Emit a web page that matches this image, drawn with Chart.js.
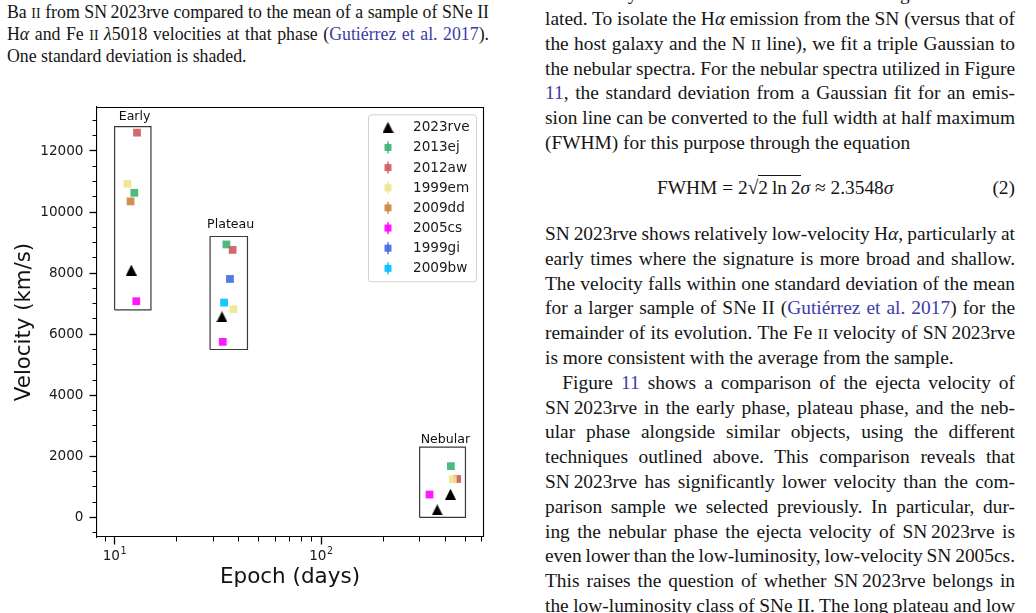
<!DOCTYPE html>
<html><head><meta charset="utf-8">
<script src="https://cdn.jsdelivr.net/npm/chart.js@4.4.1/dist/chart.umd.min.js"></script>
<style>
html,body{margin:0;padding:0;background:#fff;}
body{width:1036px;height:613px;position:relative;overflow:hidden;font-family:"Liberation Serif","Times New Roman",serif;color:#151515;}
.ln{position:absolute;white-space:nowrap;}
.cap{font-size:17.8px;line-height:21.5px;left:7px;}
.txt{font-size:19.4px;line-height:24.8px;left:545px;}
.sc{font-size:0.78em;}
.lk{color:#3b3ba8;}
#wrap{position:absolute;left:0;top:86px;width:500px;height:527px;}
</style></head>
<body>
<div class="ln cap j" data-w="482" style="top:2px"><span class="in">Ba <span class="sc">II</span> from SN&#8201;2023rve compared to the mean of a sample of SNe II</span></div>
<div class="ln cap j" data-w="482" style="top:24px"><span class="in">H<i>α</i> and Fe <span class="sc">II</span> <i>λ</i>5018 velocities at that phase (<span class="lk">Gutiérrez et al. 2017</span>).</span></div>
<div class="ln cap" style="top:45.5px"><span class="in">One standard deviation is shaded.</span></div>

<div class="ln txt j" data-w="470" style="top:-17.8px"><span class="in">the velocity shift relative to the rest wavelength was calcu-</span></div>
<div class="ln txt j" data-w="470" style="top:7px"><span class="in">lated. To isolate the H<i>α</i> emission from the SN (versus that of</span></div>
<div class="ln txt j" data-w="470" style="top:31.8px"><span class="in">the host galaxy and the N <span class="sc">II</span> line), we fit a triple Gaussian to</span></div>
<div class="ln txt j" data-w="470" style="top:56.6px"><span class="in">the nebular spectra. For the nebular spectra utilized in Figure</span></div>
<div class="ln txt j" data-w="470" style="top:81.4px"><span class="in"><span class="lk">11</span>, the standard deviation from a Gaussian fit for an emis-</span></div>
<div class="ln txt j" data-w="470" style="top:106.2px"><span class="in">sion line can be converted to the full width at half maximum</span></div>
<div class="ln txt" style="top:131px"><span class="in">(FWHM) for this purpose through the equation</span></div>
<div class="ln txt" style="top:176px;left:657px">FWHM = 2√<span style="border-top:1px solid #151515;padding-top:1px">2&#8201;ln&#8201;2</span><i>σ</i> ≈ 2.3548<i>σ</i></div>
<div class="ln txt" style="top:176px;left:auto;right:21px">(2)</div>
<div class="ln txt j" data-w="470" style="top:222px"><span class="in">SN&#8201;2023rve shows relatively low-velocity H<i>α</i>, particularly at</span></div>
<div class="ln txt j" data-w="470" style="top:246.8px"><span class="in">early times where the signature is more broad and shallow.</span></div>
<div class="ln txt j" data-w="470" style="top:271.6px"><span class="in">The velocity falls within one standard deviation of the mean</span></div>
<div class="ln txt j" data-w="470" style="top:296.4px"><span class="in">for a larger sample of SNe II (<span class="lk">Gutiérrez et al. 2017</span>) for the</span></div>
<div class="ln txt j" data-w="470" style="top:321.2px"><span class="in">remainder of its evolution. The Fe <span class="sc">II</span> velocity of SN&#8201;2023rve</span></div>
<div class="ln txt" style="top:346px"><span class="in">is more consistent with the average from the sample.</span></div>
<div class="ln txt j" data-w="452.7" style="top:370.8px;left:562.3px"><span class="in">Figure <span class="lk">11</span> shows a comparison of the ejecta velocity of</span></div>
<div class="ln txt j" data-w="470" style="top:395.6px"><span class="in">SN&#8201;2023rve in the early phase, plateau phase, and the neb-</span></div>
<div class="ln txt j" data-w="470" style="top:420.4px"><span class="in">ular phase alongside similar objects, using the different</span></div>
<div class="ln txt j" data-w="470" style="top:445.2px"><span class="in">techniques outlined above. This comparison reveals that</span></div>
<div class="ln txt j" data-w="470" style="top:470px"><span class="in">SN&#8201;2023rve has significantly lower velocity than the com-</span></div>
<div class="ln txt j" data-w="470" style="top:494.8px"><span class="in">parison sample we selected previously. In particular, dur-</span></div>
<div class="ln txt j" data-w="470" style="top:519.6px"><span class="in">ing the nebular phase the ejecta velocity of SN&#8201;2023rve is</span></div>
<div class="ln txt j" data-w="470" style="top:544.4px"><span class="in">even lower than the low-luminosity, low-velocity SN&#8201;2005cs.</span></div>
<div class="ln txt j" data-w="470" style="top:569.2px"><span class="in">This raises the question of whether SN&#8201;2023rve belongs in</span></div>
<div class="ln txt j" data-w="470" style="top:594px"><span class="in">the low-luminosity class of SNe II. The long plateau and low</span></div>

<div id="wrap"><canvas id="c" width="500" height="527"></canvas></div>

<script>
// ---------- data ----------
const supernovae = ['2023rve', '2013ej', '2012aw', '1999em', '2009dd', '2005cs', '1999gi', '2009bw'];
const snColors = ['#000000', '#3cb371', '#cd5c5c', '#f0e68c', '#cd853f', '#ff00ff', '#4169e1', '#00bfff'];

const epoch2023rve = [12.05, 33.1, 423, 365];
const vel2023rve   = [8100, 6570, 760, 250];
const epoch2013ej  = [12.46, 34.8, 425];
const vel2013ej    = [10630, 8940, 1680];
const epoch2012aw  = [12.84, 37.3, 456];
const vel2012aw    = [12600, 8760, 1260];
const epoch1999em  = [11.52, 37.6, 434];
const vel1999em    = [10925, 6820, 1250];
const epoch2009dd  = [11.95];
const vel2009dd    = [10350];
const epoch2005cs  = [12.74, 33.4, 335];
const vel2005cs    = [7080, 5750, 750];
const epoch1999gi  = [36.2];
const vel1999gi    = [7810];
const epoch2009bw  = [33.9];
const vel2009bw    = [7035];

const snEpochs = [epoch2023rve, epoch2013ej, epoch2012aw, epoch1999em, epoch2009dd, epoch2005cs, epoch1999gi, epoch2009bw];
const snVels   = [vel2023rve, vel2013ej, vel2012aw, vel1999em, vel2009dd, vel2005cs, vel1999gi, vel2009bw];

const phaseNames    = ['Early', 'Plateau', 'Nebular'];
const phaseEpochMin = [10, 29, 300];
const phaseEpochMax = [15, 44, 500];
const phaseVelMin   = [6800, 5500, 0];
const phaseVelMax   = [12800, 9200, 2300];
const phaseLabelVel = [13030, 9470, 2450];

const xMajorTicks   = [10, 100];
const xTickBase     = ['10', '10'];
const xTickExponent = ['1', '2'];
const xMinorTicks   = [9, 20, 30, 40, 50, 60, 70, 80, 90, 200, 300, 400, 500, 600];
const yMajorTicks   = [0, 2000, 4000, 6000, 8000, 10000, 12000];
const yMinorTicks   = [-500, 0, 500, 1000, 1500, 2000, 2500, 3000, 3500, 4000, 4500, 5000, 5500, 6000, 6500,
                       7000, 7500, 8000, 8500, 9000, 9500, 10000, 10500, 11000, 11500, 12000, 12500, 13000];
const xMin = 8.22, xMax = 608, yMin = -640, yMax = 13440;

// ---------- justify text lines ----------
document.querySelectorAll('.j').forEach(el => {
  const target = parseFloat(el.dataset.w);
  const sp = el.querySelector('.in');
  const w = sp.getBoundingClientRect().width;
  const n = (sp.textContent.match(/ /g) || []).length;
  if (n) sp.style.wordSpacing = ((target - w) / n) + 'px';
});

// ---------- chart ----------
function hexA(h, a) {
  const r = parseInt(h.slice(1, 3), 16), g = parseInt(h.slice(3, 5), 16), b = parseInt(h.slice(5, 7), 16);
  return `rgba(${r},${g},${b},${a})`;
}
const tri = document.createElement('canvas');
tri.width = 11; tri.height = 11;
{
  const c = tri.getContext('2d');
  c.fillStyle = '#000';
  c.beginPath(); c.moveTo(5.5, 0); c.lineTo(11, 11); c.lineTo(0, 11); c.closePath(); c.fill();
}

const datasets = [];
supernovae.forEach((name, i) => {
  datasets.push({
    label: name,
    data: snEpochs[i].map((e, k) => ({ x: e, y: snVels[i][k] })),
    pointStyle: i === 0 ? tri : 'rect',
    pointRadius: 5.5,
    backgroundColor: i === 0 ? '#000' : hexA(snColors[i], 0.9),
    borderWidth: 0,
    showLine: false,
    order: -i
  });
});
phaseNames.forEach((p, i) => {
  datasets.push({
    label: 'box-' + p,
    type: 'line',
    data: [
      { x: phaseEpochMin[i], y: phaseVelMin[i] },
      { x: phaseEpochMax[i], y: phaseVelMin[i] },
      { x: phaseEpochMax[i], y: phaseVelMax[i] },
      { x: phaseEpochMin[i], y: phaseVelMax[i] },
      { x: phaseEpochMin[i], y: phaseVelMin[i] }
    ],
    borderColor: '#3a3a3a', borderWidth: 1.2, pointRadius: 0, fill: false, tension: 0,
    order: 10
  });
});

const tickFont = { family: 'DejaVu Sans', size: 13.6 };
const extras = {
  id: 'extras',
  afterDraw(chart) {
    const ctx = chart.ctx, a = chart.chartArea, sx = chart.scales.x, sy = chart.scales.y;
    ctx.save();
    // top & right spines
    ctx.strokeStyle = '#000'; ctx.lineWidth = 1.1;
    ctx.beginPath();
    ctx.moveTo(a.left, Math.round(a.top) + 0.5); ctx.lineTo(a.right + 0.5, Math.round(a.top) + 0.5);
    ctx.lineTo(Math.round(a.right) + 0.5, a.bottom);
    ctx.stroke();
    // x tick labels with real superscripts
    ctx.fillStyle = '#1a1a1a';
    ctx.textAlign = 'left'; ctx.textBaseline = 'alphabetic';
    xMajorTicks.forEach((v, i) => {
      const x = sx.getPixelForValue(v);
      ctx.font = '13.6px "DejaVu Sans"';
      const wb = ctx.measureText(xTickBase[i]).width;
      ctx.font = '9.6px "DejaVu Sans"';
      const we = ctx.measureText(xTickExponent[i]).width;
      const x0 = x - (wb + we + 0.5) / 2;
      const base = a.bottom + 23;
      ctx.font = '13.6px "DejaVu Sans"';
      ctx.fillText(xTickBase[i], x0, base);
      ctx.font = '9.6px "DejaVu Sans"';
      ctx.fillText(xTickExponent[i], x0 + wb + 0.5, base - 5.8);
    });
    // phase labels
    ctx.fillStyle = '#111';
    ctx.font = '12.6px "DejaVu Sans"';
    ctx.textAlign = 'center'; ctx.textBaseline = 'alphabetic';
    phaseNames.forEach((p, i) => {
      const x = sx.getPixelForValue((phaseEpochMin[i] + phaseEpochMax[i]) / 2);
      const y = sy.getPixelForValue(phaseLabelVel[i]);
      ctx.fillText(p, x, y);
    });
    // legend
    const bw = 108, bh = 167;
    const bx = a.right - 7 - bw, by = a.top + 7.3;
    ctx.beginPath();
    ctx.roundRect(bx + 0.5, by + 0.5, bw, bh, 3);
    ctx.fillStyle = 'rgba(255,255,255,0.8)'; ctx.fill();
    ctx.strokeStyle = '#d0d0d0'; ctx.lineWidth = 1; ctx.stroke();
    ctx.font = '13.6px "DejaVu Sans"';
    ctx.textAlign = 'left'; ctx.textBaseline = 'middle';
    supernovae.forEach((name, i) => {
      const cy = by + 13 + i * 20.15, cx = bx + 20;
      if (i === 0) {
        ctx.drawImage(tri, cx - 5.5, cy - 5.5);
      } else {
        ctx.fillStyle = hexA(snColors[i], 0.9);
        ctx.fillRect(cx - 0.75, cy - 6, 1.5, 12);
        ctx.fillRect(cx - 3.5, cy - 3.5, 7, 7);
      }
      ctx.fillStyle = '#1a1a1a';
      ctx.fillText(name, bx + 45, cy + 0.5);
    });
    ctx.restore();
  }
};

new Chart(document.getElementById('c'), {
  type: 'scatter',
  data: { datasets },
  options: {
    responsive: false, animation: false, devicePixelRatio: 1,
    layout: { padding: { top: 21, right: 17, left: 0, bottom: 0 } },
    plugins: { legend: { display: false }, tooltip: { enabled: false } },
    scales: {
      x: {
        type: 'logarithmic', position: 'bottom', min: xMin, max: xMax,
        afterBuildTicks: s => { s.ticks = xMajorTicks.map(v => ({ value: v })); },
        afterFit: s => { s.height = 76; },
        ticks: { autoSkip: false, maxRotation: 0, minRotation: 0, padding: 3, color: '#1a1a1a', font: tickFont,
          callback: () => '' },
        grid: { drawOnChartArea: false, tickLength: 7.5, tickWidth: 1.3, tickColor: '#000' },
        border: { display: true, color: '#000', width: 1.1 },
        title: { display: true, text: 'Epoch (days)', color: '#111', font: { family: 'DejaVu Sans', size: 21.5 }, padding: { top: 0, bottom: 23 } }
      },
      xm: {
        type: 'logarithmic', position: { y: yMin }, min: xMin, max: xMax,
        afterBuildTicks: s => { s.ticks = xMinorTicks.map(v => ({ value: v })); },
        ticks: { display: false },
        grid: { drawOnChartArea: false, tickLength: 4.5, tickWidth: 1, tickColor: '#000' },
        border: { display: false }
      },
      y: {
        type: 'linear', position: 'left', min: yMin, max: yMax,
        afterBuildTicks: s => { s.ticks = yMajorTicks.map(v => ({ value: v })); },
        afterFit: s => { s.width = 97; },
        ticks: { autoSkip: false, padding: 6, color: '#1a1a1a', font: tickFont, callback: v => String(v) },
        grid: { drawOnChartArea: false, tickLength: 7.5, tickWidth: 1.3, tickColor: '#000' },
        border: { display: true, color: '#000', width: 1.1 },
        title: { display: true, text: 'Velocity (km/s)', color: '#111', font: { family: 'DejaVu Sans', size: 21.3 }, padding: { top: 12, bottom: 0 } }
      },
      ym: {
        type: 'linear', position: { x: xMin }, min: yMin, max: yMax,
        afterBuildTicks: s => { s.ticks = yMinorTicks.map(v => ({ value: v })); },
        ticks: { display: false },
        grid: { drawOnChartArea: false, tickLength: 4.5, tickWidth: 1, tickColor: '#000' },
        border: { display: false }
      }
    }
  },
  plugins: [extras]
});
</script>
</body></html>
